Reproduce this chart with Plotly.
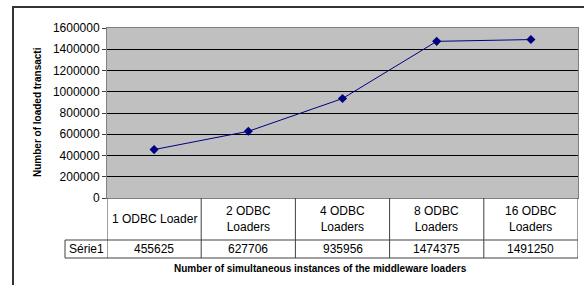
import plotly.graph_objects as go

categories = ["1 ODBC Loader", "2 ODBC<br>Loaders", "4 ODBC<br>Loaders", "8 ODBC<br>Loaders", "16 ODBC<br>Loaders"]
series_name = "Série1"
values = [455625, 627706, 935956, 1474375, 1491250]
y_ticks = [0, 200000, 400000, 600000, 800000, 1000000, 1200000, 1400000, 1600000]

W, H = 584, 285
L, R, T, B = 107, 6, 28, 87
pw, ph = W - L - R, H - T - B

def px_x(x):
    return (x - L) / pw

def px_y(y):
    return (H - B - y) / ph

xs = list(range(len(categories)))
fig = go.Figure()
fig.add_trace(go.Scatter(
    x=xs, y=values, mode="lines+markers", name=series_name,
    line=dict(color="#000080", width=1),
    marker=dict(symbol="diamond", size=7, color="#000080"),
    showlegend=False, hoverinfo="skip"))

font = dict(family="Liberation Sans, Arial, sans-serif", color="black")
shapes = []
tc = "#404040"
row1_bot = px_y(240)
row2_bot = px_y(258)
shapes.append(dict(type="line", xref="paper", yref="paper", x0=px_x(65), x1=1, y0=row1_bot, y1=row1_bot, line=dict(color=tc, width=1)))
shapes.append(dict(type="line", xref="paper", yref="paper", x0=px_x(65), x1=1, y0=row2_bot, y1=row2_bot, line=dict(color=tc, width=1)))
shapes.append(dict(type="line", xref="paper", yref="paper", x0=px_x(65), x1=px_x(65), y0=row1_bot, y1=row2_bot, line=dict(color=tc, width=1)))
for i in range(len(categories) + 1):
    shapes.append(dict(type="line", xref="x", yref="paper", x0=i - 0.5, x1=i - 0.5, y0=0, y1=row2_bot, line=dict(color=tc, width=1)))
shapes.append(dict(type="line", xref="paper", yref="paper", x0=px_x(13), x1=px_x(13), y0=px_y(6), y1=px_y(285), line=dict(color="#333333", width=2)))
shapes.append(dict(type="line", xref="paper", yref="paper", x0=px_x(12), x1=px_x(584), y0=px_y(7), y1=px_y(7), line=dict(color="#333333", width=2)))

annotations = []
for i, c in enumerate(categories):
    annotations.append(dict(x=i, y=(0 + row1_bot) / 2, xref="x", yref="paper", text=c, showarrow=False,
                            font=dict(size=12, **font), align="center", xanchor="center", yanchor="middle"))
    annotations.append(dict(x=i, y=(row1_bot + row2_bot) / 2, xref="x", yref="paper", text=str(values[i]), showarrow=False,
                            font=dict(size=12, **font), xanchor="center", yanchor="middle"))
annotations.append(dict(x=px_x(86), y=(row1_bot + row2_bot) / 2, xref="paper", yref="paper", text=series_name, showarrow=False,
                        font=dict(size=12, **font), xanchor="center", yanchor="middle"))
annotations.append(dict(x=px_x(320), y=px_y(268), xref="paper", yref="paper",
                        text="<b>Number of simultaneous instances of the middleware loaders</b>", showarrow=False,
                        font=dict(size=10, **font), xanchor="center", yanchor="middle"))
annotations.append(dict(x=px_x(37), y=px_y(112), xref="paper", yref="paper", textangle=-90,
                        text="<b>Number of loaded transacti</b>", showarrow=False,
                        font=dict(size=10, **font), xanchor="center", yanchor="middle"))

fig.update_layout(
    width=W, height=H, margin=dict(l=L, r=R, t=T, b=B, autoexpand=False),
    paper_bgcolor="white", plot_bgcolor="#C0C0C0",
    shapes=shapes, annotations=annotations, font=font,
    xaxis=dict(range=[-0.5, len(categories) - 0.5], showticklabels=False, showgrid=False, zeroline=False,
               showline=True, mirror=True, linecolor="#808080", linewidth=1, ticks="", automargin=False),
    yaxis=dict(range=[0, 1600000], tickvals=y_ticks, ticktext=[str(v) for v in y_ticks],
               showgrid=True, gridcolor="black", gridwidth=1, zeroline=False, automargin=False,
               showline=True, mirror=True, linecolor="#808080", linewidth=1,
               ticks="outside", ticklen=4, tickcolor="#404040", tickfont=dict(size=12, **font)),
)
fig.write_html("out.html", config={"displayModeBar": False},
               post_script="document.body.style.margin='0px';document.body.style.overflow='hidden';")
